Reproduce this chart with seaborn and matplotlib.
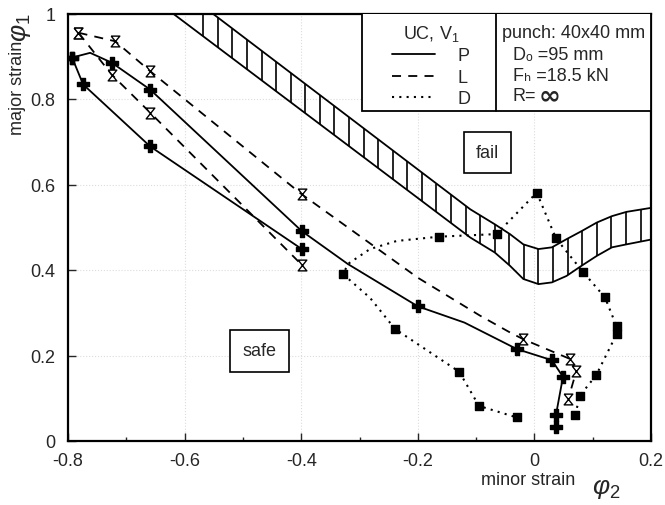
import numpy as np
import pandas as pd
import matplotlib
matplotlib.use("Agg")
import matplotlib.pyplot as plt
import seaborn as sns
from matplotlib.lines import Line2D
from matplotlib.patches import Rectangle
from matplotlib.markers import MarkerStyle

# ---------------- data ----------------
x_ticks = [-0.8, -0.6, -0.4, -0.2, 0.0, 0.2]
x_tick_labels = ["-0.8", "-0.6", "-0.4", "-0.2", "0", "0.2"]
y_ticks = [0.0, 0.2, 0.4, 0.6, 0.8, 1.0]
y_tick_labels = ["0", "0.2", "0.4", "0.6", "0.8", "1"]

# P (solid) strain paths
p1_x = [-0.793, -0.762, -0.725, -0.659, -0.399, -0.320, -0.200, -0.120, -0.030, 0.030, 0.049, 0.037, 0.037]
p1_y = [0.897, 0.908, 0.885, 0.822, 0.491, 0.414, 0.315, 0.277, 0.215, 0.189, 0.150, 0.061, 0.033]
p1_m = [1, 0, 1, 1, 1, 0, 1, 0, 1, 1, 1, 1, 1]
p2_x = [-0.793, -0.774, -0.659, -0.399]
p2_y = [0.897, 0.834, 0.689, 0.449]
p2_m = [1, 1, 1, 1]

# L (dashed) strain paths
l1_x = [-0.782, -0.719, -0.659, -0.399, -0.200, -0.093, -0.042, -0.019, 0.061, 0.072, 0.058]
l1_y = [0.955, 0.935, 0.865, 0.577, 0.382, 0.293, 0.254, 0.238, 0.192, 0.164, 0.098]
l1_m = [1, 1, 1, 1, 0, 0, 0, 1, 1, 1, 1]
l2_x = [-0.782, -0.725, -0.659, -0.399]
l2_y = [0.955, 0.857, 0.768, 0.412]
l2_m = [1, 1, 1, 1]

# D (dotted) strain path
d_x = [0.070, 0.078, 0.106, 0.141, 0.141, 0.121, 0.083, 0.037, 0.004, -0.065, -0.163,
       -0.236, -0.282, -0.320, -0.328, -0.282, -0.239, -0.129, -0.095, -0.030]
d_y = [0.061, 0.106, 0.154, 0.250, 0.268, 0.336, 0.396, 0.474, 0.581, 0.484, 0.478,
       0.468, 0.449, 0.414, 0.390, 0.335, 0.262, 0.162, 0.082, 0.055]
d_m = [1, 1, 1, 1, 1, 1, 1, 1, 1, 1, 1, 0, 0, 0, 1, 0, 1, 1, 1, 1]

# forming limit band (hatched)
band_up_x = [-0.552, -0.110, -0.068, -0.042, -0.019, 0.007, 0.030, 0.055, 0.081, 0.107, 0.133, 0.158, 0.203]
band_up_y = [1.000, 0.542, 0.507, 0.484, 0.460, 0.449, 0.453, 0.472, 0.491, 0.511, 0.526, 0.536, 0.546]
band_lo_x = [-0.620, -0.110, -0.068, -0.042, -0.019, 0.007, 0.030, 0.055, 0.081, 0.107, 0.133, 0.158, 0.203]
band_lo_y = [1.000, 0.476, 0.441, 0.410, 0.379, 0.367, 0.371, 0.386, 0.410, 0.433, 0.453, 0.460, 0.472]

legend_labels = ["P", "L", "D"]
info_lines = ["punch: 40x40 mm", "D\u2092 =95 mm", "F\u2095 =18.5 kN", "R="]

# ---------------- style ----------------
sns.set_theme(style="ticks")
plt.rcParams["font.family"] = ["Liberation Sans", "DejaVu Sans"]
plt.rcParams["mathtext.fontset"] = "custom"
plt.rcParams["mathtext.rm"] = "Liberation Sans"
plt.rcParams["mathtext.it"] = "Liberation Sans:italic"

fig = plt.figure(figsize=(6.65, 5.06), dpi=100)
ax = fig.add_axes([68 / 665, 1 - 442 / 506, 583 / 665, 427.5 / 506])

FS = 13
hourglass = MarkerStyle([(-0.8, 1), (0.8, 1), (-0.8, -1), (0.8, -1), (-0.8, 1)])

def path(xs, ys, ms, ls, marker, msize, lw=1.3, face="black"):
    df = pd.DataFrame({"x": xs, "y": ys, "m": ms})
    sns.lineplot(data=df, x="x", y="y", sort=False, estimator=None, color="black",
                 linewidth=lw, linestyle=ls, ax=ax)
    mk = df[df["m"] == 1]
    sns.scatterplot(data=mk, x="x", y="y", marker=marker, s=msize, color=face,
                    edgecolor="black", linewidth=1.0, ax=ax, zorder=5)

# band
up = pd.DataFrame({"x": band_up_x, "y": band_up_y})
lo = pd.DataFrame({"x": band_lo_x, "y": band_lo_y})
sns.lineplot(data=up, x="x", y="y", sort=False, estimator=None, color="black", linewidth=1.3, ax=ax)
sns.lineplot(data=lo, x="x", y="y", sort=False, estimator=None, color="black", linewidth=1.3, ax=ax)
hx = np.arange(-0.568, 0.2, 0.025)
ax.vlines(hx, np.interp(hx, band_lo_x, band_lo_y),
          np.minimum(np.interp(hx, band_up_x, band_up_y), 1.0), color="black", linewidth=1.2)

# paths
path(p1_x, p1_y, p1_m, "-", "P", 70)
path(p2_x, p2_y, p2_m, "-", "P", 70)
path(l1_x, l1_y, l1_m, (0, (5, 4)), hourglass, 60, face="white")
path(l2_x, l2_y, l2_m, (0, (5, 4)), hourglass, 60, face="white")
path(d_x, d_y, d_m, (0, (1, 2.5)), "s", 28, lw=1.5)

ax.set_xlim(-0.8, 0.2)
ax.set_ylim(0, 1)
ax.set_xticks(x_ticks, x_tick_labels)
ax.set_yticks(y_ticks, y_tick_labels)
ax.set_xticks(np.arange(-0.7, 0.2, 0.2), minor=True)
ax.tick_params(direction="in", length=6, width=1, labelsize=FS)
ax.tick_params(axis="x", pad=8)
ax.tick_params(axis="y", pad=9)
ax.tick_params(which="minor", direction="in", length=3, width=1)
ax.grid(True, color="#dcdcdc", linestyle=":", linewidth=0.8)
ax.set_xlabel("")
ax.set_ylabel("")
for s in ax.spines.values():
    s.set_linewidth(1.6)
    s.set_visible(True)
    s.set_color("black")

# legend box
ax.add_patch(Rectangle((0.504, 0.772), 0.496, 0.228, transform=ax.transAxes,
                       facecolor="white", edgecolor="black", linewidth=1.3, zorder=6))
ax.plot([0.734, 0.734], [0.772, 1.0], transform=ax.transAxes, color="black", linewidth=1.3, zorder=7)
handles = [Line2D([], [], color="black", lw=1.3, ls="-"),
           Line2D([], [], color="black", lw=1.3, ls=(0, (5, 4))),
           Line2D([], [], color="black", lw=1.5, ls=(0, (1, 2.5)))]
leg = ax.legend(handles, legend_labels, title="UC, V$_\\mathregular{1}$", loc="upper left",
                bbox_to_anchor=(0.556, 0.978), frameon=False, fontsize=FS, title_fontsize=FS,
                handlelength=2.4, handletextpad=1.2, labelspacing=0.25, borderpad=0,
                borderaxespad=0)
leg.set_zorder(8)

ax.text(0.744, 0.955, info_lines[0], transform=ax.transAxes, fontsize=FS, va="center", ha="left", zorder=8)
ax.text(0.763, 0.903, info_lines[1], transform=ax.transAxes, fontsize=FS, va="center", ha="left", zorder=8)
ax.text(0.763, 0.856, info_lines[2], transform=ax.transAxes, fontsize=FS, va="center", ha="left", zorder=8)
ax.text(0.763, 0.808, info_lines[3], transform=ax.transAxes, fontsize=FS, va="center", ha="left", zorder=8)
ax.text(0.808, 0.808, "\u221e", transform=ax.transAxes, fontsize=19, va="center", ha="left",
        fontweight="bold", family="DejaVu Sans", zorder=8)

# region labels
box = dict(boxstyle="square,pad=0.65", facecolor="white", edgecolor="black", linewidth=1.2)
ax.text(-0.081, 0.675, "fail", fontsize=FS, ha="center", va="center", bbox=box, zorder=8)
box2 = dict(boxstyle="square,pad=0.7", facecolor="white", edgecolor="black", linewidth=1.2)
ax.text(-0.472, 0.211, "safe", fontsize=FS, ha="center", va="center", bbox=box2, zorder=8)

# axis titles
fig.text(481 / 665, 1 - 481 / 506, "minor strain", fontsize=FS, ha="left", va="center")
fig.text(592 / 665, 1 - 488 / 506, "$\\varphi_2$", fontsize=19, ha="left", va="center",
         family="DejaVu Sans")
fig.text(18 / 665, 1 - 88 / 506, "major strain", fontsize=FS, rotation=90, ha="center", va="center")
fig.text(20 / 665, 1 - 28 / 506, "$\\varphi_1$", fontsize=19, rotation=90, ha="center", va="center",
         family="DejaVu Sans")

fig.savefig("out.png", dpi=100)
